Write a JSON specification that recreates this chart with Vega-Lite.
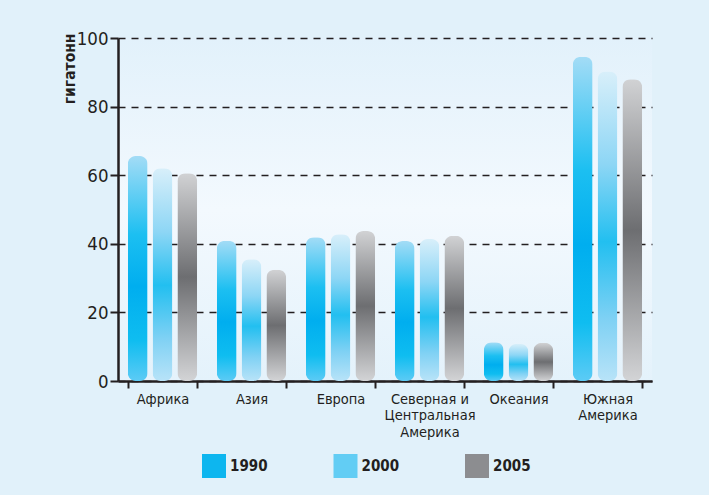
{
  "$schema": "https://vega.github.io/schema/vega-lite/v6.json",
  "width": 534,
  "height": 343,
  "autosize": {"type": "none"},
  "padding": {"left": 118, "top": 38, "right": 57, "bottom": 114},
  "background": "#e1f1fa",
  "config": {
    "font": "DejaVu Sans Condensed",
    "view": {
      "stroke": null,
      "fill": {"gradient": "linear", "x1": 0, "y1": 0, "x2": 0, "y2": 1, "stops": [
        {"offset": 0, "color": "#e2f1fb"},
        {"offset": 0.5, "color": "#f3f9fe"},
        {"offset": 1, "color": "#e4f2fb"}
      ]}
    }
  },
  "data": {
    "values": [
      {"region": "Африка", "year": "1990", "value": 65.6},
      {"region": "Африка", "year": "2000", "value": 62.0},
      {"region": "Африка", "year": "2005", "value": 60.6},
      {"region": "Азия", "year": "1990", "value": 40.9},
      {"region": "Азия", "year": "2000", "value": 35.5},
      {"region": "Азия", "year": "2005", "value": 32.4},
      {"region": "Европа", "year": "1990", "value": 41.9},
      {"region": "Европа", "year": "2000", "value": 42.8},
      {"region": "Европа", "year": "2005", "value": 43.7},
      {"region": "Северная и Центральная Америка", "year": "1990", "value": 40.8},
      {"region": "Северная и Центральная Америка", "year": "2000", "value": 41.4},
      {"region": "Северная и Центральная Америка", "year": "2005", "value": 42.3},
      {"region": "Океания", "year": "1990", "value": 11.3},
      {"region": "Океания", "year": "2000", "value": 10.8},
      {"region": "Океания", "year": "2005", "value": 11.1},
      {"region": "Южная Америка", "year": "1990", "value": 94.5},
      {"region": "Южная Америка", "year": "2000", "value": 90.2},
      {"region": "Южная Америка", "year": "2005", "value": 88.0}
    ]
  },
  "mark": {"type": "bar", "cornerRadius": 8},
  "encoding": {
    "x": {
      "field": "region",
      "type": "nominal",
      "sort": null,
      "scale": {"paddingInner": 0.22, "paddingOuter": 0.11},
      "axis": {
        "title": null,
        "labelAngle": 0,
        "labelFontSize": 14.5,
        "labelColor": "#231f20",
        "labelPadding": 4,
        "labelLineHeight": 16.5,
        "labelLimit": 200,
        "labelExpr": "datum.value == 'Северная и Центральная Америка' ? ['Северная и', 'Центральная', 'Америка'] : datum.value == 'Южная Америка' ? ['Южная', 'Америка'] : datum.value",
        "domainColor": "#231f20",
        "domainWidth": 2.5,
        "tickColor": "#231f20",
        "tickWidth": 2,
        "tickSize": 7,
        "tickBand": "extent",
        "grid": false
      }
    },
    "xOffset": {
      "field": "year",
      "type": "nominal",
      "scale": {"paddingInner": 0.2, "paddingOuter": 0}
    },
    "y": {
      "field": "value",
      "type": "quantitative",
      "scale": {"domain": [0, 100], "nice": false},
      "axis": {
        "title": "гигатонн",
        "titleFontSize": 15.5,
        "titleFontWeight": "bold",
        "titleColor": "#231f20",
        "titleAnchor": "end",
        "titleX": -49,
        "titleY": -5,
        "titleBaseline": "middle",
        "titleAngle": -90,
        "values": [0, 20, 40, 60, 80, 100],
        "labelFontSize": 18.5,
        "labelColor": "#231f20",
        "labelPadding": 2,
        "domainColor": "#231f20",
        "domainWidth": 2.5,
        "tickColor": "#231f20",
        "tickWidth": 2,
        "tickSize": 8,
        "grid": true,
        "gridColor": "#231f20",
        "gridDash": [7, 6],
        "gridWidth": 1.3
      }
    },
    "fill": {
      "condition": [
        {"test": "datum.year == '1990'", "value": {"gradient": "linear", "x1": 0, "y1": 0, "x2": 0, "y2": 1, "stops": [
          {"offset": 0, "color": "#a3dcf6"},
          {"offset": 0.35, "color": "#1cbff1"},
          {"offset": 0.58, "color": "#00aeef"},
          {"offset": 0.82, "color": "#0fbdf0"},
          {"offset": 1, "color": "#5ccbf5"}
        ]}},
        {"test": "datum.year == '2000'", "value": {"gradient": "linear", "x1": 0, "y1": 0, "x2": 0, "y2": 1, "stops": [
          {"offset": 0, "color": "#d8effa"},
          {"offset": 0.3, "color": "#8dd6f5"},
          {"offset": 0.55, "color": "#22bff0"},
          {"offset": 0.8, "color": "#7fd1f4"},
          {"offset": 1, "color": "#b8e3f8"}
        ]}},
        {"test": "datum.year == '2005'", "value": {"gradient": "linear", "x1": 0, "y1": 0, "x2": 0, "y2": 1, "stops": [
          {"offset": 0, "color": "#d1d2d4"},
          {"offset": 0.5, "color": "#6d6e71"},
          {"offset": 1, "color": "#d3d4d6"}
        ]}}
      ],
      "field": "year",
      "type": "nominal",
      "scale": {
        "domain": ["1990", "2000", "2005"],
        "range": ["#0db6ef", "#62cdf4", "#8c8d90"]
      },
      "legend": {
        "title": null,
        "orient": "none",
        "direction": "horizontal",
        "legendX": 84,
        "legendY": 416,
        "symbolType": "square",
        "symbolSize": 576,
        "symbolStrokeWidth": 0,
        "symbolOpacity": 1,
        "labelFontSize": 15,
        "labelFontWeight": "bold",
        "labelColor": "#231f20",
        "labelOffset": 4,
        "columnPadding": 65.5
      }
    }
  }
}
